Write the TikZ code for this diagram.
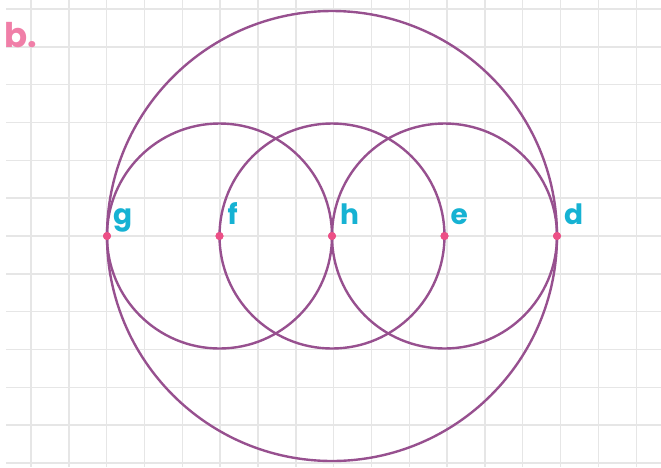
\documentclass[tikz,border=0pt]{standalone}
\usepackage{fontspec}
\setmainfont{Poppins}
\usepackage{xcolor}
\usetikzlibrary{positioning}

\definecolor{gridgray}{HTML}{E6E6E6}
\definecolor{ringpurple}{HTML}{97508F}
\definecolor{dotpink}{HTML}{EC4F86}
\definecolor{labelcyan}{HTML}{16B2D3}
\definecolor{titlepink}{HTML}{F07FA8}

\begin{document}
\begin{tikzpicture}[
    x=1pt, y=-1pt,
    gridline/.style={gridgray, line width=1.4pt},
    ring/.style={ringpurple, line width=2.4pt},
    pt/.style={circle, fill=dotpink, inner sep=0pt, minimum size=8pt},
    lbl/.style={labelcyan, font=\fontsize{28}{28}\selectfont\bfseries, inner sep=0pt, anchor=base west}
]
\useasboundingbox (0,0) rectangle (661,467);

% Grid
\foreach \i in {0,...,16}
    \draw[gridline] ({31+37.83*\i},0) -- ({31+37.83*\i},467);
\foreach \j in {0,...,12}
    \draw[gridline] (6,{9+37.83*\j}) -- (661,{9+37.83*\j});

% Title
\node[titlepink, font=\fontsize{34}{34}\selectfont\bfseries, anchor=base west, inner sep=0pt] (title) at (4,47) {b.};

% Points on the diameter
\node[pt] (g) at (107,236) {};
\node[pt] (f) at (219.5,236) {};
\node[pt] (h) at (332,236) {};
\node[pt] (e) at (444.5,236) {};
\node[pt] (d) at (557,236) {};

% Circles
\draw[ring] (h) circle (225);
\draw[ring] (f) circle (112.5);
\draw[ring] (h) circle (112.5);
\draw[ring] (e) circle (112.5);

% redraw dots on top
\foreach \p in {g,f,h,e,d}
    \node[pt] at (\p) {};

% Labels
\node[lbl] (glbl) at ([xshift=6pt,yshift=12pt]g.center) {g};
\node[lbl] (flbl) at ([xshift=8pt,yshift=12pt]f.center) {f};
\node[lbl] (hlbl) at ([xshift=8pt,yshift=12pt]h.center) {h};
\node[lbl] (elbl) at ([xshift=6pt,yshift=12pt]e.center) {e};
\node[lbl] (dlbl) at ([xshift=7pt,yshift=12pt]d.center) {d};

\end{tikzpicture}
\end{document}
